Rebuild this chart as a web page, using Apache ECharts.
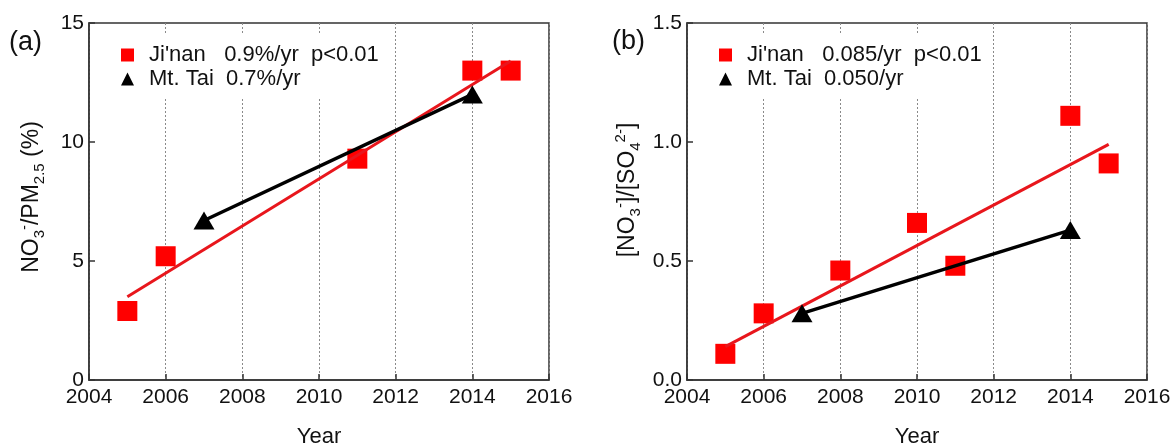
<!DOCTYPE html>
<html><head><meta charset="utf-8">
<script src="https://cdn.jsdelivr.net/npm/echarts@6/dist/echarts.min.js"></script>
<style>html,body{margin:0;padding:0;background:#fff}#c{width:1175px;height:448px}</style>
</head><body><div id="c"></div>
<script>
// ---- data ----
const xTicks = [2004, 2006, 2008, 2010, 2012, 2014, 2016];
const seriesNames = ["Ji'nan", "Mt. Tai"];
// panel (a)
const jinanYearsA = [2005, 2006, 2011, 2014, 2015];
const jinanA = [2.9, 5.2, 9.3, 13.0, 13.0];
const taiYears = [2007, 2014];
const taiA = [6.7, 12.0];
const fitYears = [2005, 2015];
const jinanFitA = [3.5, 13.4];
const yTicksA = [0, 5, 10, 15];
const legendA = ["Ji'nan   0.9%/yr  p<0.01", "Mt. Tai  0.7%/yr"];
// panel (b)
const jinanYearsB = [2005, 2006, 2008, 2010, 2011, 2014, 2015];
const jinanB = [0.11, 0.28, 0.46, 0.66, 0.48, 1.11, 0.91];
const taiB = [0.28, 0.63];
const jinanFitB = [0.14, 0.99];
const yTicksB = [0, 0.5, 1.0, 1.5];
const legendB = ["Ji'nan   0.085/yr  p<0.01", "Mt. Tai  0.050/yr"];

const FONT = "'Liberation Sans', Arial, sans-serif";
const RED = '#ff0000', RED_LINE = '#e8161c', BLACK = '#000';
const zip = (xs, ys) => xs.map((x, i) => [x, ys[i]]);

function xAxisCfg(gi) {
  return {
    type: 'value', gridIndex: gi,
    min: xTicks[0], max: xTicks[xTicks.length - 1], interval: xTicks[1] - xTicks[0],
    name: 'Year', nameLocation: 'middle', nameGap: 46,
    nameTextStyle: { fontSize: 22, color: '#111', fontFamily: FONT },
    axisLine: { show: true, lineStyle: { color: '#333', width: 1.5 } },
    axisTick: { show: true, inside: true, length: 6, lineStyle: { color: '#333', width: 1.5 } },
    axisLabel: { fontSize: 21, color: '#111', fontFamily: FONT, margin: 7, formatter: v => String(v) },
    splitLine: { show: true, lineStyle: { color: '#8a8a8a', width: 1, type: [2, 2] } }
  };
}
function yAxisCfg(gi, ticks, digits) {
  return {
    type: 'value', gridIndex: gi,
    min: ticks[0], max: ticks[ticks.length - 1], interval: ticks[1] - ticks[0],
    axisLine: { show: true, lineStyle: { color: '#333', width: 1.5 } },
    axisTick: { show: true, inside: true, length: 6, lineStyle: { color: '#333', width: 1.5 } },
    axisLabel: { fontSize: 21, color: '#111', fontFamily: FONT, margin: 5, formatter: v => v.toFixed(digits) },
    splitLine: { show: false }
  };
}
function legendCfg(left, texts) {
  return {
    data: [{ name: seriesNames[0], icon: 'rect' }, { name: seriesNames[1], icon: 'triangle' }],
    left: left, top: 34, orient: 'vertical',
    itemWidth: 13, itemHeight: 13, itemGap: 2,
    backgroundColor: '#fff', padding: [10, 8, 8, 8],
    selectedMode: false,
    formatter: n => texts[seriesNames.indexOf(n)],
    textStyle: { fontSize: 22, color: '#111', fontFamily: FONT, padding: [0, 0, 0, 10] }
  };
}
function panelSeries(gi, jy, jv, fv, tv) {
  return [
    { name: seriesNames[0], type: 'scatter', xAxisIndex: gi, yAxisIndex: gi, data: zip(jy, jv),
      symbol: 'rect', symbolSize: 20, itemStyle: { color: RED, opacity: 1 }, z: 2 },
    { name: 'fit' + gi, type: 'line', xAxisIndex: gi, yAxisIndex: gi, data: zip(fitYears, fv),
      symbol: 'none', lineStyle: { color: RED_LINE, width: 3 }, z: 3 },
    { name: 'tai' + gi, type: 'line', xAxisIndex: gi, yAxisIndex: gi, data: zip(taiYears, tv),
      symbol: 'none', lineStyle: { color: BLACK, width: 3.5 }, z: 4 },
    { name: seriesNames[1], type: 'scatter', xAxisIndex: gi, yAxisIndex: gi, data: zip(taiYears, tv),
      symbol: 'triangle', symbolSize: [21, 18], itemStyle: { color: BLACK, opacity: 1 }, z: 5 }
  ];
}
const rich = {
  sub: { fontSize: 15, fontFamily: FONT, fill: '#111', verticalAlign: 'bottom' },
  sup: { fontSize: 15, fontFamily: FONT, fill: '#111', verticalAlign: 'top' }
};
function yName(x, y, text) {
  return {
    type: 'text', x: x, y: y, rotation: Math.PI / 2, silent: true,
    style: { text: text, rich: rich, fontSize: 23, fontFamily: FONT, fill: '#111',
             align: 'center', verticalAlign: 'middle', lineHeight: 30 }
  };
}
const gridBase = { top: 23, width: 460, height: 357, show: true, borderColor: '#333', borderWidth: 1.5,
                   backgroundColor: 'transparent', containLabel: false, outerBoundsMode: 'none' };

const chart = echarts.init(document.getElementById('c'), null, { renderer: 'canvas' });
chart.setOption({
  animation: false,
  backgroundColor: '#fff',
  grid: [
    Object.assign({ left: 89 }, gridBase),
    Object.assign({ left: 687 }, gridBase)
  ],
  xAxis: [xAxisCfg(0), xAxisCfg(1)],
  yAxis: [yAxisCfg(0, yTicksA, 0), yAxisCfg(1, yTicksB, 1)],
  legend: [legendCfg(113, legendA), legendCfg(711, legendB)],
  series: [].concat(
    panelSeries(0, jinanYearsA, jinanA, jinanFitA, taiA),
    panelSeries(1, jinanYearsB, jinanB, jinanFitB, taiB)
  ),
  graphic: [
    { type: 'text', x: 9, y: 29, silent: true, style: { text: '(a)', fontSize: 27, fontFamily: FONT, fill: '#111' } },
    { type: 'text', x: 612, y: 28, silent: true, style: { text: '(b)', fontSize: 27, fontFamily: FONT, fill: '#111' } },
    yName(32, 197, 'NO{sub|3}{sup|-}/PM{sub|2.5} (%)'),
    yName(628, 190, '[NO{sub|3}{sup|-}]/[SO{sub|4}{sup|2-}]')
  ]
});
</script></body></html>
